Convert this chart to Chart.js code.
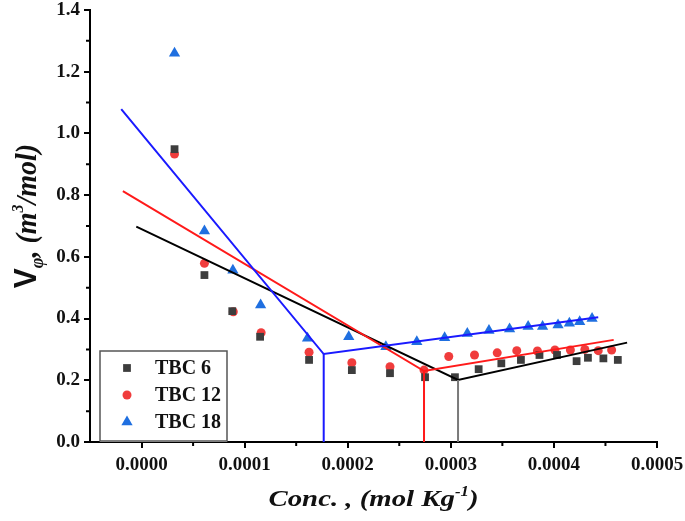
<!DOCTYPE html>
<html lang="en">
<head>
<meta charset="UTF-8">
<title>Apparent molar volume vs. concentration</title>
<script src="https://cdn.jsdelivr.net/npm/chart.js"></script>
<style>
    body { margin: 0; background: #ffffff; }
    .wrap { width: 685px; height: 521px; }
</style>
</head>
<body>
<div class="wrap"><canvas id="volChart"></canvas></div>
<script>
// axis ticks
const xTicks = [0, 0.0001, 0.0002, 0.0003, 0.0004, 0.0005];
const xMinor = [0.00005, 0.00015, 0.00025, 0.00035, 0.00045];
const yTicks = [0, 0.2, 0.4, 0.6, 0.8, 1.0, 1.2, 1.4];
const yMinor = [0.1, 0.3, 0.5, 0.7, 0.9, 1.1, 1.3];

// measured points
const conc6 = [0.000032, 0.000061, 0.000088, 0.000115, 0.0001625, 0.000204, 0.000241, 0.000275, 0.000304,
               0.000327, 0.000349, 0.000368, 0.000386, 0.000403, 0.000422, 0.000433, 0.000448, 0.000462];
const vphi6 = [0.949, 0.541, 0.424, 0.341, 0.266, 0.233, 0.223, 0.21, 0.21,
               0.236, 0.255, 0.266, 0.282, 0.282, 0.262, 0.273, 0.271, 0.266];

const conc12 = [0.000032, 0.000061, 0.000089, 0.000116, 0.0001625, 0.000204, 0.000241, 0.000274, 0.000298,
                0.000323, 0.000345, 0.000364, 0.000384, 0.000401, 0.000416, 0.00043, 0.000443, 0.000456];
const vphi12 = [0.933, 0.579, 0.422, 0.354, 0.291, 0.257, 0.244, 0.233, 0.277,
                0.282, 0.289, 0.296, 0.295, 0.298, 0.298, 0.30, 0.296, 0.298];

const conc18 = [0.000032, 0.000061, 0.0000886, 0.0001155, 0.000161, 0.000201, 0.000237, 0.000267, 0.000294,
                0.000316, 0.000337, 0.000357, 0.000375, 0.000389, 0.000404, 0.000415, 0.000425, 0.000437];
const vphi18 = [1.26, 0.684, 0.557, 0.444, 0.336, 0.341, 0.309, 0.325, 0.338,
                0.352, 0.361, 0.366, 0.374, 0.374, 0.379, 0.385, 0.39, 0.40];

// fitted lines: start, break point (CMC), end
const fit6X = [-0.0000051, 0.000307, 0.000471];
const fit6Y = [0.698, 0.201, 0.322];
const fit12X = [-0.0000181, 0.000274, 0.000458];
const fit12Y = [0.813, 0.23, 0.331];
const fit18X = [-0.0000197, 0.0001767, 0.000443];
const fit18Y = [1.079, 0.285, 0.404];

const serif = "'Liberation Serif', 'Times New Roman', serif";

function toPts(xs, ys) {
    return xs.map((x, i) => ({ x: x, y: ys[i] }));
}
function lineSet(xs, ys, color) {
    return { data: toPts(xs, ys), showLine: true, borderColor: color, borderWidth: 2,
             pointRadius: 0, fill: false, isFit: true };
}
function dropSet(xs, ys, color) {
    // vertical line from the break point down to the x axis
    return { data: [{ x: xs[1], y: ys[1] }, { x: xs[1], y: 0 }], showLine: true, borderColor: color,
             borderWidth: 2, pointRadius: 0, fill: false, isFit: true };
}
function pointSet(label, xs, ys, style, color, r) {
    return { label: label, data: toPts(xs, ys), pointStyle: style, pointRadius: r,
             backgroundColor: color, borderColor: color, borderWidth: 0, showLine: false };
}

// draw a run of text pieces with different fonts
function drawRuns(ctx, runs, cx, cy, sx, rotate) {
    ctx.save();
    let total = 0;
    runs.forEach(r => { ctx.font = r.font; r.w = ctx.measureText(r.text).width; total += r.w; });
    ctx.translate(cx, cy);
    ctx.scale(sx, 1);
    if (rotate) ctx.rotate(-Math.PI / 2);
    ctx.fillStyle = '#111';
    ctx.textBaseline = 'alphabetic';
    let x = -total / 2;
    runs.forEach(r => { ctx.font = r.font; ctx.fillText(r.text, x, r.dy || 0); x += r.w; });
    ctx.restore();
}

function drawMarker(ctx, style, x, y, r, color) {
    ctx.fillStyle = color;
    ctx.beginPath();
    if (style === 'rect') {
        const s = Math.SQRT1_2 * r;
        ctx.rect(x - s, y - s, 2 * s, 2 * s);
    } else if (style === 'triangle') {
        ctx.moveTo(x, y - r);
        ctx.lineTo(x + r * 0.866, y + r * 0.5);
        ctx.lineTo(x - r * 0.866, y + r * 0.5);
        ctx.closePath();
    } else {
        ctx.arc(x, y, r, 0, Math.PI * 2);
    }
    ctx.fill();
}

const extrasPlugin = {
    id: 'extras',
    afterDraw(chart) {
        const ctx = chart.ctx;
        const a = chart.chartArea;
        const xs = chart.scales.x, ys = chart.scales.y;

        // minor ticks
        ctx.save();
        ctx.strokeStyle = '#000';
        ctx.lineWidth = 2;
        ctx.beginPath();
        xMinor.forEach(v => { const p = xs.getPixelForValue(v); ctx.moveTo(p, a.bottom); ctx.lineTo(p, a.bottom + 4); });
        yMinor.forEach(v => { const p = ys.getPixelForValue(v); ctx.moveTo(a.left, p); ctx.lineTo(a.left - 4, p); });
        ctx.stroke();
        ctx.restore();

        // legend box
        const bx = a.left + 10, bw = 127, bh = 91, by = a.bottom - bh;
        ctx.save();
        ctx.fillStyle = '#fff';
        ctx.fillRect(bx, by, bw, bh);
        ctx.strokeStyle = '#555';
        ctx.lineWidth = 1.5;
        ctx.strokeRect(bx, by, bw, bh - 1);
        const items = chart.data.datasets.filter(d => !d.isFit);
        items.forEach((d, i) => {
            const yy = by + 17 + i * 27;
            drawMarker(ctx, d.pointStyle, bx + 27, yy, d.pointRadius, d.backgroundColor);
            ctx.fillStyle = '#111';
            ctx.font = 'bold 20px ' + serif;
            ctx.textBaseline = 'middle';
            ctx.fillText(d.label, bx + 55, yy + 1);
        });
        ctx.restore();

        // axis titles
        drawRuns(ctx, [
            { text: 'Conc. , (mol Kg', font: 'italic bold 24px ' + serif },
            { text: '-1', font: 'italic bold 14px ' + serif, dy: -10 },
            { text: ')', font: 'italic bold 24px ' + serif }
        ], (a.left + a.right) / 2, 506, 1.2, false);

        drawRuns(ctx, [
            { text: 'V', font: "bold 30px 'Liberation Sans', Arial, sans-serif" },
            { text: 'φ', font: 'italic bold 18px ' + serif, dy: 7 },
            { text: ', (m', font: 'italic bold 28px ' + serif },
            { text: '3', font: 'italic bold 16px ' + serif, dy: -12 },
            { text: '/mol)', font: 'italic bold 28px ' + serif }
        ], 36, 216, 1.05, true);
    }
};

const tickFont = { family: serif, size: 19, weight: 'bold', lineHeight: 1.0 };

new Chart(document.getElementById('volChart').getContext('2d'), {
    type: 'scatter',
    data: {
        datasets: [
            dropSet(fit18X, fit18Y, '#1a1aff'),
            dropSet(fit12X, fit12Y, '#ff1a1a'),
            dropSet(fit6X, fit6Y, '#7a7a7a'),
            lineSet(fit18X, fit18Y, '#1a1aff'),
            lineSet(fit12X, fit12Y, '#ff1a1a'),
            lineSet(fit6X, fit6Y, '#000000'),
            pointSet('TBC 6', conc6, vphi6, 'rect', '#3d3d3d', 5.5),
            pointSet('TBC 12', conc12, vphi12, 'circle', '#f03c3c', 4.5),
            pointSet('TBC 18', conc18, vphi18, 'triangle', '#1f6fe0', 6.5)
        ]
    },
    options: {
        responsive: true,
        maintainAspectRatio: false,
        animation: false,
        layout: { padding: { left: 0, right: 28, top: 10, bottom: 0 } },
        plugins: { legend: { display: false }, tooltip: { enabled: false } },
        scales: {
            x: {
                type: 'linear', min: -0.00005, max: 0.0005,
                border: { display: true, color: '#000', width: 2 },
                grid: { drawOnChartArea: false, drawTicks: true, tickLength: 6, tickColor: '#000', lineWidth: 2 },
                ticks: { font: tickFont, color: '#111', padding: 8, maxRotation: 0, autoSkip: false,
                         callback: v => v.toFixed(4) },
                afterBuildTicks: s => { s.ticks = xTicks.map(v => ({ value: v })); },
                afterFit: s => { s.height = 79; s.paddingLeft = 0; s.paddingRight = 0; }
            },
            y: {
                type: 'linear', min: 0, max: 1.4,
                border: { display: true, color: '#000', width: 2 },
                grid: { drawOnChartArea: false, drawTicks: true, tickLength: 6, tickColor: '#000', lineWidth: 2 },
                ticks: { font: tickFont, color: '#111', padding: 4, autoSkip: false,
                         callback: v => v.toFixed(1) },
                afterBuildTicks: s => { s.ticks = yTicks.map(v => ({ value: v })); },
                afterFit: s => { s.width = 90; s.paddingTop = 0; s.paddingBottom = 0; }
            }
        }
    },
    plugins: [extrasPlugin]
});
</script>
</body>
</html>
